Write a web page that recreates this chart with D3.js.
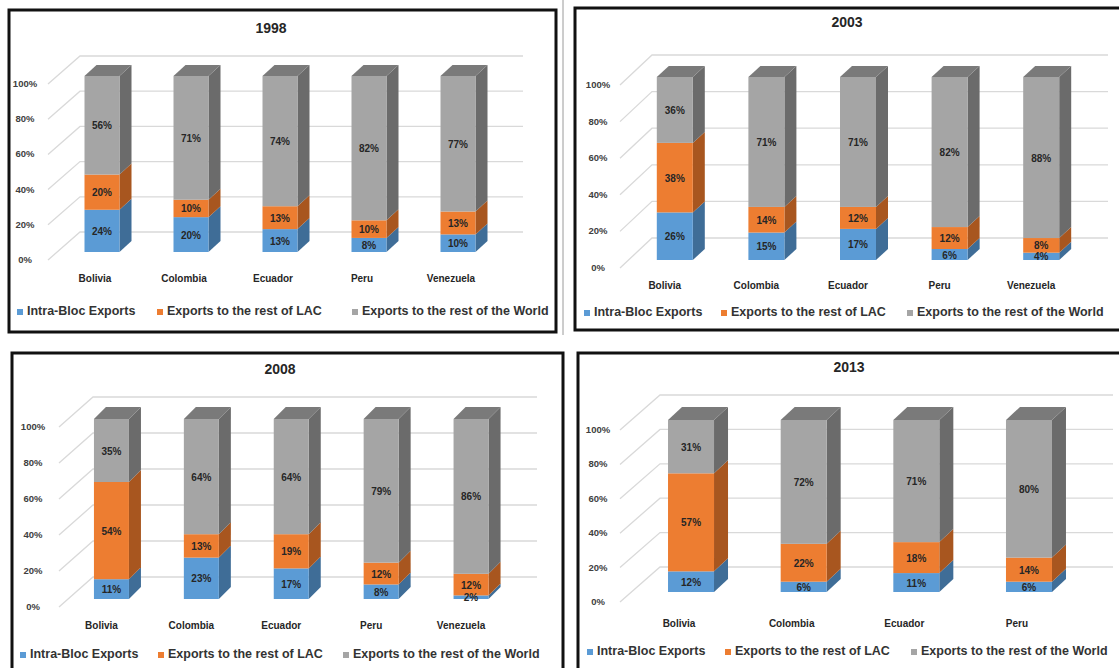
<!DOCTYPE html>
<html>
<head>
<meta charset="utf-8">
<script src="https://cdnjs.cloudflare.com/ajax/libs/d3/7.8.5/d3.min.js"></script>
<style>
  body { margin: 0; background: #fff; }
  .cat, .tick-label, .seg-label, .title { font-family: "Liberation Sans Narrow", "Liberation Sans", Arial, sans-serif; font-weight: bold; }
  .legend { font-family: "Liberation Sans", Arial, sans-serif; font-weight: bold; }
</style>
</head>
<body>
<div id="chart-area"></div>
<script>
// ---- data ----
const seriesNames = ["Intra-Bloc Exports", "Exports to the rest of LAC", "Exports to the rest of the World"];
const seriesKeys = ["intra", "lac", "world"];
const yTicks = [0, 20, 40, 60, 80, 100];

const countries5 = ["Bolivia", "Colombia", "Ecuador", "Peru", "Venezuela"];
const countries4 = ["Bolivia", "Colombia", "Ecuador", "Peru"];

const intra1998 = [24, 20, 13, 8, 10];
const lac1998 = [20, 10, 13, 10, 13];
const world1998 = [56, 71, 74, 82, 77];

const intra2003 = [26, 15, 17, 6, 4];
const lac2003 = [38, 14, 12, 12, 8];
const world2003 = [36, 71, 71, 82, 88];

const intra2008 = [11, 23, 17, 8, 2];
const lac2008 = [54, 13, 19, 12, 12];
const world2008 = [35, 64, 64, 79, 86];

const intra2013 = [12, 6, 11, 6];
const lac2013 = [57, 22, 18, 14];
const world2013 = [31, 72, 71, 80];

// ---- styles ----
const front = { intra: "#5b9bd5", lac: "#ed7d31", world: "#a5a5a5" };
const side = { intra: "#3f6d97", lac: "#a8561f", world: "#6b6b6b" };
const topFace = { intra: "#4a80b3", lac: "#c4662a", world: "#7a7a7a" };

const width = 1119, height = 668;

const svg = d3.select("#chart-area")
  .append("svg")
  .attr("width", width)
  .attr("height", height);

// panel layouts
const panels = [
  { year: "1998", cats: countries5, intra: intra1998, lac: lac1998, world: world1998,
    box: [9, 10, 547, 322], title: [271, 33],
    y0: 252, y100: 76, xRange: [57.5, 502.5], barW: 35, dx: 12, dy: 11,
    axisX: 48, axisDepth: 32, gFront: 8, gBack: 20, gridEnd: 523, labelX: 25,
    catY: 282, catDx: -7, legendY: 315, legendX: [17, 157, 352] },
  { year: "2003", cats: countries5, intra: intra2003, lac: lac2003, world: world2003,
    box: [575, 8, 560, 322], title: [847, 27],
    y0: 260, y100: 77, xRange: [629, 1087], barW: 36, dx: 12, dy: 11,
    axisX: 620, axisDepth: 32, gFront: 8, gBack: 22, gridEnd: 1108, labelX: 598,
    catY: 289, catDx: -10, legendY: 316, legendX: [584, 721, 907] },
  { year: "2008", cats: countries5, intra: intra2008, lac: lac2008, world: world2008,
    box: [12, 353, 551, 330], title: [280, 374],
    y0: 599, y100: 419, xRange: [66.5, 516], barW: 35, dx: 12, dy: 12,
    axisX: 59, axisDepth: 34, gFront: 8, gBack: 22, gridEnd: 537, labelX: 33,
    catY: 629, catDx: -10, legendY: 658, legendX: [20, 158, 343] },
  { year: "2013", cats: countries4, intra: intra2013, lac: lac2013, world: world2013,
    box: [578, 353, 560, 330], title: [849, 372],
    y0: 592, y100: 420, xRange: [634.7, 1085.3], barW: 46, dx: 14, dy: 13,
    axisX: 620, axisDepth: 40, gFront: 10, gBack: 25, gridEnd: 1113, labelX: 598,
    catY: 627, catDx: -12, legendY: 655, legendX: [587, 725, 911] }
];

// thin separator between the top panels
svg.append("line")
  .attr("x1", 563).attr("x2", 563).attr("y1", 0).attr("y2", 335)
  .attr("stroke", "#9a9a9a").attr("stroke-width", 1);

panels.forEach(drawPanel);

function drawPanel(p) {
  const g = svg.append("g");

  const y = d3.scaleLinear().domain([0, 1]).range([p.y0, p.y100]);
  const x = d3.scalePoint().domain(p.cats).range(p.xRange).padding(0.5);

  // gridlines on the back wall, with the diagonal to the floor front
  yTicks.forEach(t => {
    const yy = y(t / 100);
    g.append("path")
      .attr("d", `M${p.axisX},${yy + p.gFront} L${p.axisX + p.axisDepth},${yy - p.gBack} L${p.gridEnd},${yy - p.gBack}`)
      .attr("fill", "none")
      .attr("stroke", "#d9d9d9")
      .attr("stroke-width", 1.3);
    g.append("text")
      .attr("class", "tick-label")
      .attr("x", p.labelX)
      .attr("y", yy + p.gFront + 3)
      .attr("text-anchor", "middle")
      .attr("font-size", "9.5px")
      .attr("fill", "#404040")
      .text(`${t}%`);
  });

  const rows = p.cats.map((c, i) => ({ cat: c, intra: p.intra[i], lac: p.lac[i], world: p.world[i] }));
  const stacked = d3.stack().keys(seriesKeys).offset(d3.stackOffsetExpand)(rows);

  stacked.forEach((layer, li) => {
    const key = layer.key;
    layer.forEach(d => {
      const cx = x(d.data.cat);
      const x0 = cx - p.barW / 2, x1 = cx + p.barW / 2;
      const yb = y(d[0]), yt = y(d[1]);
      g.append("path")
        .attr("d", `M${x1},${yt} L${x1 + p.dx},${yt - p.dy} L${x1 + p.dx},${yb - p.dy} L${x1},${yb} Z`)
        .attr("fill", side[key]);
      g.append("rect")
        .attr("x", x0).attr("y", yt)
        .attr("width", p.barW).attr("height", Math.max(0, yb - yt))
        .attr("fill", front[key]);
      if (li === stacked.length - 1) {
        g.append("path")
          .attr("d", `M${x0},${yt} L${x0 + p.dx},${yt - p.dy} L${x1 + p.dx},${yt - p.dy} L${x1},${yt} Z`)
          .attr("fill", topFace[key]);
      }
    });
  });

  // segment labels
  stacked.forEach(layer => {
    layer.forEach(d => {
      g.append("text")
        .attr("class", "seg-label")
        .attr("x", x(d.data.cat))
        .attr("y", (y(d[0]) + y(d[1])) / 2 + 4)
        .attr("text-anchor", "middle")
        .attr("font-size", "10px")
        .attr("fill", "#262626")
        .text(`${d.data[layer.key]}%`);
    });
  });

  // category labels
  p.cats.forEach(c => {
    g.append("text")
      .attr("class", "cat")
      .attr("x", x(c) + p.catDx)
      .attr("y", p.catY)
      .attr("text-anchor", "middle")
      .attr("font-size", "10px")
      .attr("fill", "#262626")
      .text(c);
  });

  // title
  g.append("text")
    .attr("class", "title")
    .attr("x", p.title[0])
    .attr("y", p.title[1])
    .attr("text-anchor", "middle")
    .attr("font-size", "14px")
    .attr("fill", "#262626")
    .text(p.year);

  // legend
  seriesKeys.forEach((k, i) => {
    g.append("rect")
      .attr("x", p.legendX[i])
      .attr("y", p.legendY - 6)
      .attr("width", 6).attr("height", 6)
      .attr("fill", front[k]);
    g.append("text")
      .attr("class", "legend")
      .attr("x", p.legendX[i] + 10)
      .attr("y", p.legendY)
      .attr("font-size", "12.5px")
      .attr("fill", "#333")
      .text(seriesNames[i]);
  });

  // border
  g.append("rect")
    .attr("x", p.box[0]).attr("y", p.box[1])
    .attr("width", p.box[2]).attr("height", p.box[3])
    .attr("fill", "none")
    .attr("stroke", "#111")
    .attr("stroke-width", 3);
}
</script>
</body>
</html>
